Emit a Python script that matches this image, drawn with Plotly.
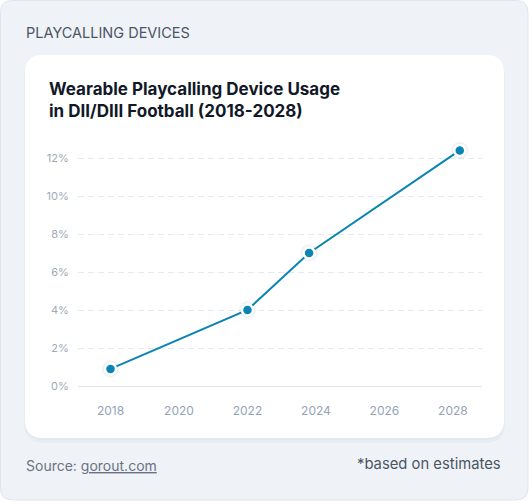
import plotly.graph_objects as go

# data
years = [2018, 2022, 2023.8, 2028.2]
usage_pct = [0.9, 4.0, 7.0, 12.4]
x_ticks = [2018, 2020, 2022, 2024, 2026, 2028]
y_ticks = [0, 2, 4, 6, 8, 10, 12]

header = "PLAYCALLING DEVICES"
title = "Wearable Playcalling Device Usage<br>in DII/DIII Football (2018-2028)"
source = 'Source: <span style="text-decoration:underline">gorout.com</span>'
note = "*based on estimates"

W, H = 529, 501
# plot area in page pixels
L, R, T, B = 78, 482, 139, 386

LINE = "#0a84b2"
FONT = "Inter, 'Noto Sans', sans-serif"


def px(x):
    return (x - L) / (R - L)


def py(y):
    return (B - y) / (B - T)


def rounded_rect(x0, y0, x1, y1, r):
    pts = [
        ("M", [(x0 + r, y0)]),
        ("L", [(x1 - r, y0)]),
        ("Q", [(x1, y0), (x1, y0 + r)]),
        ("L", [(x1, y1 - r)]),
        ("Q", [(x1, y1), (x1 - r, y1)]),
        ("L", [(x0 + r, y1)]),
        ("Q", [(x0, y1), (x0, y1 - r)]),
        ("L", [(x0, y0 + r)]),
        ("Q", [(x0, y0), (x0 + r, y0)]),
    ]
    out = []
    for cmd, ps in pts:
        out.append(cmd + " " + " ".join(f"{px(a):.5f},{py(b):.5f}" for a, b in ps))
    return " ".join(out) + " Z"


shapes = [
    # outer card
    dict(type="path", path=rounded_rect(0.5, 0.5, 528, 500, 12), xref="paper", yref="paper",
         fillcolor="#eff3f8", line=dict(color="#dfe5ec", width=1), layer="below"),
    # soft shadow under inner card
    dict(type="path", path=rounded_rect(24, 57, 505, 443, 20), xref="paper", yref="paper",
         fillcolor="rgba(148,163,184,0.08)", line=dict(width=0), layer="below"),
    dict(type="path", path=rounded_rect(25, 56, 504, 440, 19), xref="paper", yref="paper",
         fillcolor="rgba(148,163,184,0.08)", line=dict(width=0), layer="below"),
    # inner white card
    dict(type="path", path=rounded_rect(25, 55, 504, 438, 18), xref="paper", yref="paper",
         fillcolor="#ffffff", line=dict(width=0), layer="below"),
]

fig = go.Figure()

# faint halo behind the points
fig.add_trace(go.Scatter(
    x=years, y=usage_pct, mode="markers",
    marker=dict(size=17, color="rgba(100,116,139,0.10)"),
    hoverinfo="skip", showlegend=False,
))
fig.add_trace(go.Scatter(
    x=years, y=usage_pct, mode="lines+markers",
    line=dict(color=LINE, width=2),
    marker=dict(size=11, color=LINE, line=dict(color="#ffffff", width=2.5)),
    hovertemplate="%{x}: %{y}%<extra></extra>",
    showlegend=False,
))

annotations = [
    dict(text=header, x=px(24), y=py(33), xanchor="left", yanchor="middle",
         font=dict(family=FONT, size=14.5, color="#4b5563")),
    dict(text="<b>" + title + "</b>", x=px(47), y=py(77), xanchor="left", yanchor="top",
         align="left", font=dict(family=FONT, size=17, color="#111827")),
    dict(text=source, x=px(24), y=py(465), xanchor="left", yanchor="middle",
         font=dict(family=FONT, size=14, color="#6b7280")),
    dict(text=note, x=px(503), y=py(464), xanchor="right", yanchor="middle",
         font=dict(family=FONT, size=14.8, color="#4b5563")),
]
for a in annotations:
    a.update(xref="paper", yref="paper", showarrow=False)

fig.update_layout(
    width=W, height=H,
    margin=dict(l=L, r=W - R, t=T, b=H - B, pad=0),
    paper_bgcolor="#ffffff",
    plot_bgcolor="rgba(0,0,0,0)",
    shapes=shapes,
    annotations=annotations,
    font=dict(family=FONT),
    xaxis=dict(
        range=[2017.05, 2028.85], tickvals=x_ticks, showgrid=False, zeroline=False,
        showline=False, ticks="outside", ticklen=14, tickcolor="rgba(0,0,0,0)",
        tickfont=dict(size=12, color="#94a3b8"), fixedrange=True,
    ),
    yaxis=dict(
        range=[0, 13], tickvals=y_ticks, ticktext=[f"{v}%" for v in y_ticks],
        showgrid=True, gridcolor="#e5eaf1", griddash="6px,4px", gridwidth=1,
        zeroline=True, zerolinecolor="#dde4ec", zerolinewidth=1, showline=False,
        ticks="outside", ticklen=6, tickcolor="rgba(0,0,0,0)",
        tickfont=dict(size=11, color="#a0aab8"), fixedrange=True,
    ),
)

# drop the browser's default 8px body margin so the card sits at the page corner
fig.write_html(
    "out.html",
    config=dict(displayModeBar=False),
    post_script="document.body.style.margin='0';document.body.style.overflow='hidden';",
)
